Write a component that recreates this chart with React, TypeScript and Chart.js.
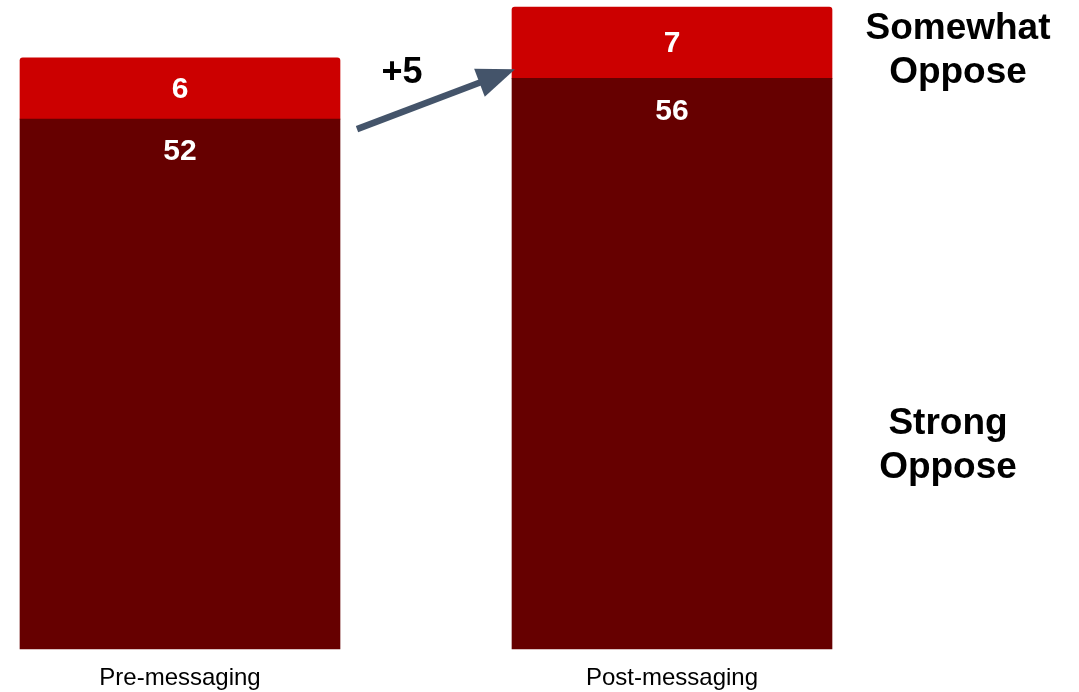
import React, { useEffect, useRef } from "react";
import { Chart, registerables } from "chart.js";

Chart.register(...registerables);

const categories = ["Pre-messaging", "Post-messaging"];
const strongOppose = [52, 56];
const somewhatOppose = [6, 7];
const seriesLabels = ["Strong Oppose", "Somewhat Oppose"];
const sideLabels = [["Somewhat", "Oppose"], ["Strong", "Oppose"]];

const DARK = "#660000";
const RED = "#cc0000";
const ARROW = "#44546a";
const FONT = "Arial, 'Liberation Sans', sans-serif";

const overlayPlugin = {
  id: "overlay",
  afterDatasetsDraw(chart: any) {
    const ctx = chart.ctx;
    const strongMeta = chart.getDatasetMeta(0);
    const someMeta = chart.getDatasetMeta(1);
    ctx.save();
    ctx.fillStyle = "#ffffff";
    ctx.font = `bold 30px ${FONT}`;
    ctx.textAlign = "center";
    ctx.textBaseline = "middle";
    someMeta.data.forEach((bar: any, i: number) => {
      const cy = (bar.y + bar.base) / 2;
      ctx.fillText(String(somewhatOppose[i]), bar.x, cy + 1);
    });
    strongMeta.data.forEach((bar: any, i: number) => {
      ctx.fillText(String(strongOppose[i]), bar.x, bar.y + 33);
    });

    // arrow from pre to post
    const pre = strongMeta.data[0];
    const post = strongMeta.data[1];
    const half = pre.width / 2;
    const x1 = pre.x + half + 17;
    const y1 = pre.y + 10;
    const x2 = post.x - post.width / 2 + 3;
    const y2 = post.y - 9;
    const ang = Math.atan2(y2 - y1, x2 - x1);
    const headLen = 38;
    const headW = 15;
    const bx = x2 - headLen * Math.cos(ang);
    const by = y2 - headLen * Math.sin(ang);
    ctx.strokeStyle = ARROW;
    ctx.fillStyle = ARROW;
    ctx.lineWidth = 6.5;
    ctx.beginPath();
    ctx.moveTo(x1, y1);
    ctx.lineTo(bx + 2 * Math.cos(ang), by + 2 * Math.sin(ang));
    ctx.stroke();
    ctx.beginPath();
    ctx.moveTo(x2, y2);
    ctx.lineTo(bx + headW * Math.sin(ang), by - headW * Math.cos(ang));
    ctx.lineTo(bx - headW * Math.sin(ang), by + headW * Math.cos(ang));
    ctx.closePath();
    ctx.fill();

    // change label
    const preTotal = strongOppose[0] + somewhatOppose[0];
    const postTotal = strongOppose[1] + somewhatOppose[1];
    const diff = postTotal - preTotal;
    ctx.fillStyle = "#000000";
    ctx.font = `bold 36px ${FONT}`;
    ctx.fillText((diff >= 0 ? "+" : "") + diff, 402, 73);

    // side labels
    ctx.font = `bold 37px ${FONT}`;
    ctx.fillText(sideLabels[0][0], 958, 29);
    ctx.fillText(sideLabels[0][1], 958, 73);
    ctx.fillText(sideLabels[1][0], 948, 424);
    ctx.fillText(sideLabels[1][1], 948, 468);
    ctx.restore();
  },
};

export default function App() {
  const ref = useRef<HTMLCanvasElement | null>(null);
  useEffect(() => {
    if (!ref.current) return;
    const chart = new Chart(ref.current, {
      type: "bar",
      data: {
        labels: categories,
        datasets: [
          {
            label: seriesLabels[0],
            data: strongOppose,
            backgroundColor: DARK,
            barThickness: 320,
            clip: false as any,
            borderRadius: 0,
          },
          {
            label: seriesLabels[1],
            data: somewhatOppose,
            backgroundColor: RED,
            barThickness: 320,
            clip: false as any,
            borderRadius: { topLeft: 3, topRight: 3, bottomLeft: 0, bottomRight: 0 },
            borderSkipped: false,
          },
        ],
      },
      options: {
        animation: false,
        responsive: false,
        layout: { padding: { left: 180, right: 407, top: 7, bottom: 0 } },
        plugins: { legend: { display: false }, tooltip: { enabled: false } },
        scales: {
          x: {
            stacked: true,
            offset: false,
            grid: { display: false, drawTicks: false },
            border: { display: false },
            ticks: {
              color: "#000000",
              font: { family: FONT, size: 24 },
              padding: 15,
              maxRotation: 0,
            },
            afterFit: (scale: any) => {
              scale.height = 43;
            },
          },
          y: {
            stacked: true,
            display: false,
            min: 0,
            max: 63,
          },
        },
      },
      plugins: [overlayPlugin],
    });
    return () => chart.destroy();
  }, []);
  return (
    <div style={{ position: "absolute", left: 0, top: 0, width: 1079, height: 692, background: "#fff" }}>
      <canvas ref={ref} width={1079} height={692} style={{ display: "block" }} />
    </div>
  );
}
